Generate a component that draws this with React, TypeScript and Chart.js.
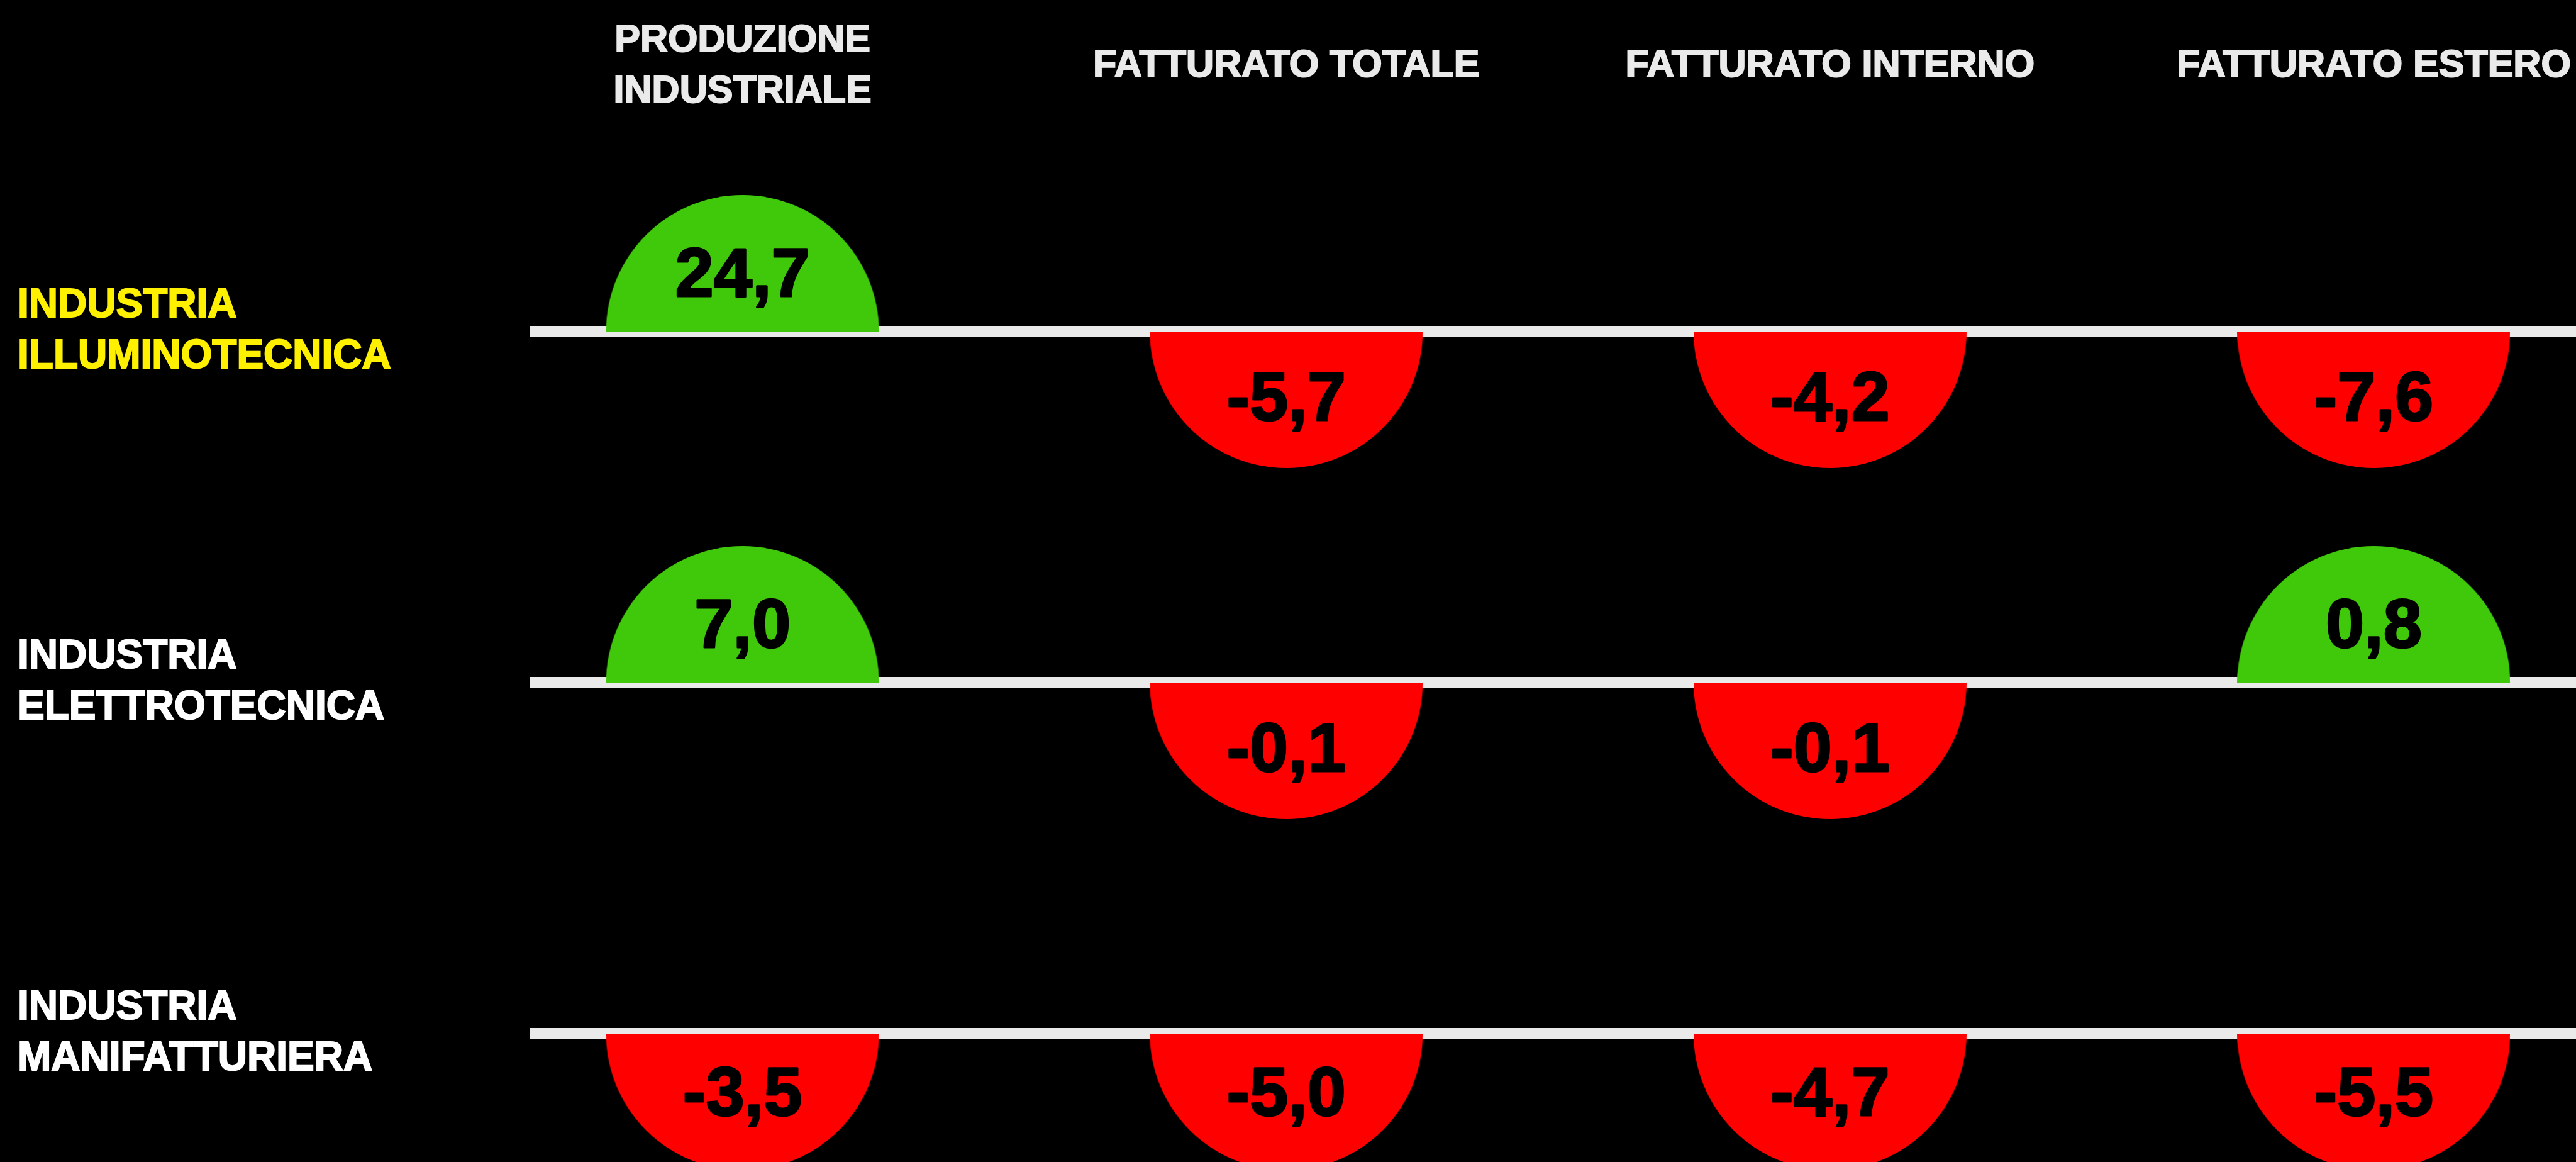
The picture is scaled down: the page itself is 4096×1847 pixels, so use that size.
import React, { useEffect, useRef } from "react";
import { Chart, registerables } from "chart.js";

Chart.register(...registerables);

// ---- data ----
const categories: (string | string[])[] = [
  ["PRODUZIONE", "INDUSTRIALE"],
  "FATTURATO TOTALE",
  "FATTURATO INTERNO",
  "FATTURATO ESTERO",
];
const sectors: string[][] = [
  ["INDUSTRIA", "ILLUMINOTECNICA"],
  ["INDUSTRIA", "ELETTROTECNICA"],
  ["INDUSTRIA", "MANIFATTURIERA"],
];
const illuminotecnica = [24.7, -5.7, -4.2, -7.6];
const elettrotecnica = [7.0, -0.1, -0.1, 0.8];
const manifatturiera = [-3.5, -5.0, -4.7, -5.5];
const seriesValues = [illuminotecnica, elettrotecnica, manifatturiera];
const sectorColors = ["#FFF000", "#FFFFFF", "#FFFFFF"];

// ---- style ----
const W = 4096;
const H = 1847;
const FONT = "'Liberation Sans', Arial, Helvetica, sans-serif";
const GREEN = "#40C80A";
const RED = "#FF0000";
const LINE = "#EAEAEA";
const R = 217;
const VALUE_SIZE = 110;

function makeHalf(up: boolean, color: string): HTMLCanvasElement {
  const c = document.createElement("canvas");
  c.width = R * 2;
  c.height = R * 2;
  const g = c.getContext("2d")!;
  g.fillStyle = color;
  g.beginPath();
  if (up) g.arc(R, R, R, Math.PI, 2 * Math.PI);
  else g.arc(R, R, R, 0, Math.PI);
  g.closePath();
  g.fill();
  return c;
}

const fmt = (v: number) => v.toFixed(1).replace(".", ",");

export default function App() {
  const ref = useRef<HTMLCanvasElement | null>(null);

  useEffect(() => {
    document.body.style.margin = "0";
    document.body.style.background = "#000";
    const up = makeHalf(true, GREEN);
    const down = makeHalf(false, RED);

    const labelPlugin = {
      id: "valueLabels",
      afterDatasetsDraw(chart: any) {
        const ctx = chart.ctx;
        ctx.save();
        ctx.font = `bold ${VALUE_SIZE}px ${FONT}`;
        ctx.fillStyle = "#000";
        ctx.strokeStyle = "#000";
        ctx.lineWidth = 3;
        ctx.lineJoin = "round";
        ctx.textAlign = "center";
        ctx.textBaseline = "alphabetic";
        const halfCap = 0.358 * VALUE_SIZE;
        chart.data.datasets.forEach((ds: any, di: number) => {
          const meta = chart.getDatasetMeta(di);
          meta.data.forEach((el: any, i: number) => {
            const v = seriesValues[di][i];
            let cy;
            if (v >= 0) {
              const ext = Math.min(R, el.y);
              cy = el.y - (ext < R ? 0.444 * ext : 0.44 * R);
            } else {
              const ext = Math.min(R, chart.height - el.y);
              cy = el.y + (ext < R ? 0.444 * ext : 0.47 * R);
            }
            const t = fmt(v);
            ctx.strokeText(t, el.x, cy + halfCap);
            ctx.fillText(t, el.x, cy + halfCap);
          });
        });
        ctx.restore();
      },
    };

    const chart = new Chart(ref.current!, {
      type: "scatter",
      data: {
        datasets: seriesValues.map((vals, row) => ({
          label: sectors[row].join(" "),
          data: vals.map((v, col) => ({ x: col, y: row })),
          pointStyle: (c: any) => (vals[c.dataIndex] >= 0 ? up : down),
          pointRadius: R,
          pointHoverRadius: R,
          backgroundColor: (c: any) => (vals[c.dataIndex] >= 0 ? GREEN : RED),
          borderWidth: 0,
          clip: false as any,
        })),
      },
      options: {
        responsive: false,
        animation: false,
        events: [],
        layout: { autoPadding: false, padding: { left: 28, right: 0, top: 0, bottom: 0 } },
        plugins: {
          legend: { display: false },
          tooltip: { enabled: false },
        },
        scales: {
          x: {
            type: "linear",
            position: "top",
            min: -0.3905,
            max: 3.372,
            grid: { display: false, drawTicks: false },
            border: { display: false },
            afterBuildTicks: (s: any) => {
              s.ticks = categories.map((_, i) => ({ value: i }));
            },
            afterFit: (s: any) => {
              s.height = 250;
              s.paddingLeft = 0;
              s.paddingRight = 0;
            },
            ticks: {
              color: LINE,
              textStrokeColor: LINE,
              textStrokeWidth: 2,
              padding: 104,
              maxRotation: 0,
              minRotation: 0,
              autoSkip: false,
              crossAlign: "center",
              font: { family: FONT, size: 61, weight: "bold", lineHeight: 81 / 61 },
              callback: (v: any) => categories[v as number] as any,
            },
          },
          y: {
            type: "linear",
            reverse: true,
            min: -0.4964,
            max: 2.3656,
            z: 1,
            grid: {
              color: LINE,
              lineWidth: 17.5,
              drawTicks: false,
            },
            border: { display: false },
            afterBuildTicks: (s: any) => {
              s.ticks = sectors.map((_, i) => ({ value: i }));
            },
            afterFit: (s: any) => {
              s.width = 815;
              s.paddingTop = 0;
              s.paddingBottom = 0;
            },
            ticks: {
              padding: 0,
              autoSkip: false,
              crossAlign: "far",
              color: (c: any) => sectorColors[c.index] ?? "#FFFFFF",
              textStrokeColor: (c: any) => sectorColors[c.index] ?? "#FFFFFF",
              textStrokeWidth: 2,
              font: { family: FONT, size: 64, weight: "bold", lineHeight: 81 / 64 },
              callback: (v: any) => sectors[v as number] as any,
            },
          },
        },
      },
      plugins: [labelPlugin],
    } as any);

    return () => chart.destroy();
  }, []);

  return (
    <div style={{ position: "fixed", left: 0, top: 0, width: W, height: H, background: "#000" }}>
      <canvas ref={ref} width={W} height={H} style={{ display: "block", width: W, height: H }} />
    </div>
  );
}
